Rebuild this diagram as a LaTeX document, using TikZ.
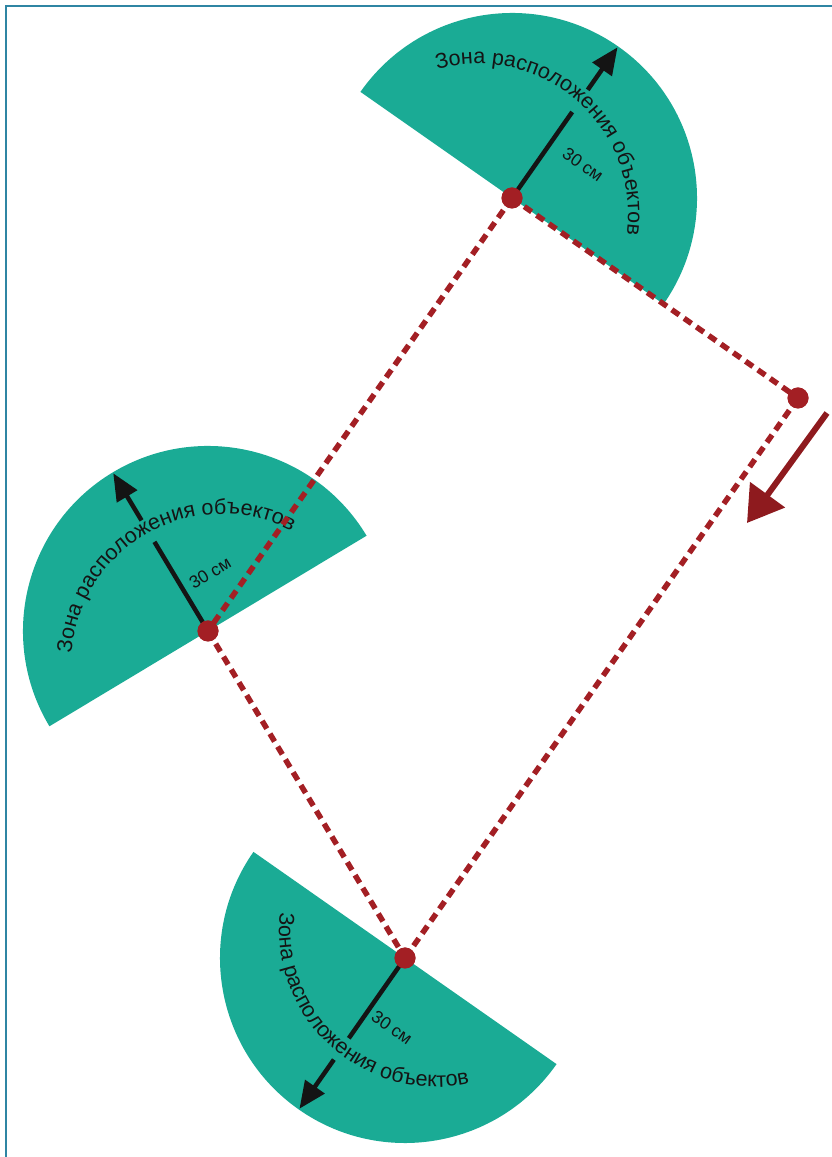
\documentclass[tikz,border=0pt]{standalone}
\usepackage{fontspec}
\setmainfont{Liberation Sans}
\usetikzlibrary{arrows.meta,calc,decorations.text}
\definecolor{zone}{RGB}{26,171,149}
\definecolor{route}{RGB}{163,31,36}
\definecolor{bigred}{RGB}{142,26,30}
\definecolor{framecol}{RGB}{47,133,163}
\definecolor{ink}{RGB}{20,20,20}
\begin{document}
\begin{tikzpicture}[x=1pt,y=1pt,
  zonefill/.style={fill=zone, draw=none},
  routeline/.style={draw=route, line width=5.5pt, dash pattern=on 9pt off 6pt},
  waypoint/.style={circle, fill=route, draw=none, inner sep=0pt, minimum size=21pt},
  radiusline/.style={draw=ink, line width=4.5pt},
  radiusarrow/.style={draw=ink, line width=4.5pt, -{Triangle[length=27pt,width=23pt]}},
  distlabel/.style={font=\fontsize{17.5}{20}\selectfont, text=ink, inner sep=0pt},
  zonetext/.style={decorate, decoration={text along path, text align=center,
     text={|\fontsize{21.5}{25}\selectfont\color{ink}|Зона расположения объектов}}},
  heading/.style={draw=bigred, line width=6pt, -{Triangle[length=35pt,width=42pt]}},
  framestyle/.style={draw=framecol, line width=2pt}
]
\useasboundingbox (0,0) rectangle (832,1157);
% frame (top and left edges only)
\draw[framestyle] (6,0) -- (6,1151) -- (832,1151);

% waypoints (positions)
\coordinate (Apos) at (512,959);
\coordinate (Bpos) at (798,759);
\coordinate (Cpos) at (208,526);
\coordinate (Dpos) at (405,199);

% sectors
\fill[zonefill] ($(Apos)+(-35:185)$) arc[start angle=-35, end angle=145, radius=185pt] -- cycle;
\fill[zonefill] ($(Cpos)+(31:185)$) arc[start angle=31, end angle=211, radius=185pt] -- cycle;
\fill[zonefill] ($(Dpos)+(145:185)$) arc[start angle=145, end angle=325, radius=185pt] -- cycle;

% radius arrows (interrupted where the text crosses)
\coordinate (Ag1) at ($(Apos)+(55:105)$);
\coordinate (Ag2) at ($(Apos)+(55:132)$);
\coordinate (Atip) at ($(Apos)+(55:184)$);
\draw[radiusline] (Apos) -- (Ag1);
\draw[radiusarrow] (Ag2) -- (Atip);

\coordinate (Cg1) at ($(Cpos)+(121:104)$);
\coordinate (Cg2) at ($(Cpos)+(121:129)$);
\coordinate (Ctip) at ($(Cpos)+(121:184)$);
\draw[radiusline] (Cpos) -- (Cg1);
\draw[radiusarrow] (Cg2) -- (Ctip);

\coordinate (Dg1) at ($(Dpos)+(235:98)$);
\coordinate (Dg2) at ($(Dpos)+(235:124)$);
\coordinate (Dtip) at ($(Dpos)+(235:184)$);
\draw[radiusline] (Dpos) -- (Dg1);
\draw[radiusarrow] (Dg2) -- (Dtip);

% curved texts
\coordinate (At) at (478,943);
\coordinate (Ct) at (222,492);
\coordinate (Dt) at (436,227);
\path[zonetext] (At) ++(129:150) arc[start angle=129, end angle=-31, radius=150pt];
\path[zonetext] (Ct) ++(199:151) arc[start angle=199, end angle=39, radius=151pt];
\path[zonetext] (Dt) ++(148:157) arc[start angle=148, end angle=308, radius=157pt];

% distance labels
\node[distlabel, rotate=-35] (Al) at (583,992) {30 см};
\node[distlabel, rotate=31] (Cl) at (210,584) {30 см};
\node[distlabel, rotate=-35] (Dl) at (392,129) {30 см};

% route
\node[waypoint] (A) at (Apos) {};
\node[waypoint] (B) at (Bpos) {};
\node[waypoint] (C) at (Cpos) {};
\node[waypoint] (D) at (Dpos) {};
\draw[routeline] (A.center) -- (B.center);
\draw[routeline] (A.center) -- (C.center);
\draw[routeline] (C.center) -- (D.center);
\draw[routeline] (D.center) -- (B.center);
\node[waypoint] at (A) {};
\node[waypoint] at (B) {};
\node[waypoint] at (C) {};
\node[waypoint] at (D) {};

% heading arrow
\coordinate (H1) at (827,744);
\coordinate (H2) at (747,634);
\draw[heading] (H1) -- (H2);
\end{tikzpicture}
\end{document}
